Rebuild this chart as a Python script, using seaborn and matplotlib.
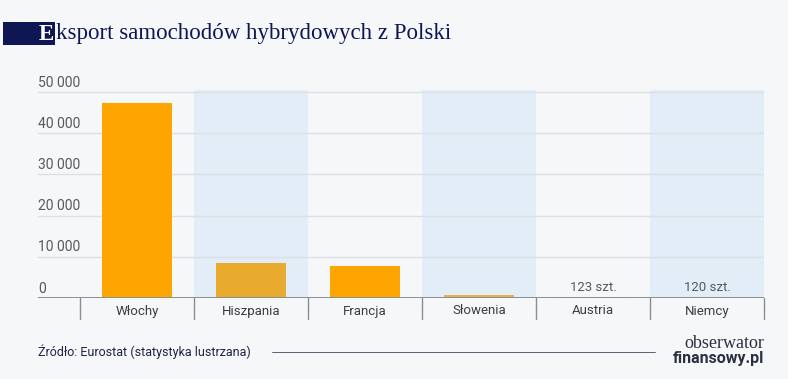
import numpy as np
import pandas as pd
import seaborn as sns
import matplotlib.pyplot as plt
from matplotlib.patches import Rectangle
from matplotlib.lines import Line2D

# data
countries = ['Włochy', 'Hiszpania', 'Francja', 'Słowenia', 'Austria', 'Niemcy']
exports = [47300, 8600, 7700, 700, 123, 120]
bar_colors = ['#ffa500', '#e8ab2e', '#ffa500', '#e8b040', '#e6b652', '#e6b652']
shaded = [1, 3, 5]
yticks = [0, 10000, 20000, 30000, 40000, 50000]
notes = {4: '123 szt.', 5: '120 szt.'}

bg = '#f5f7f9'
navy = '#0f1654'
W, H = 788, 379

sns.set_theme(style='white')
plt.rcParams['font.family'] = ['Roboto', 'DejaVu Sans']

fig = plt.figure(figsize=(W / 100, H / 100), dpi=100, facecolor=bg)

# axes: left edge at 38px (gridlines start), categories from 80px to 764px
left, right, top, bottom = 38, 764, 90, 298
ax = fig.add_axes([left / W, 1 - bottom / H, (right - left) / W, (bottom - top) / H])
ax.set_facecolor(bg)
cat_w = (764 - 80) / 6
x0 = -0.5 - (80 - left) / cat_w

df = pd.DataFrame({'kraj': countries, 'eksport': exports})
for i in shaded:
    ax.axvspan(i - 0.5, i + 0.5, color='#e3edf7', zorder=0, lw=0)
for t in yticks[1:]:
    ax.axhline(t, color='#dcdfe3', lw=1, zorder=1)

sns.barplot(data=df, x='kraj', y='eksport', hue='kraj', palette=bar_colors,
            legend=False, width=0.62, ax=ax, zorder=3, saturation=1,
            edgecolor='none', linewidth=0)

ax.set_xlim(x0, 5.5)
ax.set_ylim(0, 50500)
for s in ax.spines.values():
    s.set_visible(False)
ax.set_xticks([])
ax.set_yticks([])
ax.set_xlabel('')
ax.set_ylabel('')

ax.axhline(0, color='#8a8d92', lw=1.4, zorder=4)

# y labels sit just above their gridlines
for t in yticks:
    lab = f'{t:,}'.replace(',', ' ') if t else '0'
    ax.text(x0, t + 600, lab, ha='left', va='bottom', fontsize=10,
            color='#555a60', zorder=5)

for i, txt in notes.items():
    ax.text(i, exports[i] + 900, txt, ha='center', va='bottom', fontsize=9.5,
            color='#555a60', zorder=5)

# category labels and separators below the baseline
for i, c in enumerate(countries):
    fig.text((80 + cat_w * (i + 0.5)) / W, 1 - 311 / H, c, ha='center', va='center',
             fontsize=9.5, color='#3a3f45')
for i in range(7):
    xp = (80 + cat_w * i) / W
    fig.add_artist(Line2D([xp, xp], [1 - 298 / H, 1 - 319 / H], color='#8a8d92', lw=1))

# title
fig.add_artist(Rectangle((3 / W, 1 - 45 / H), 52 / W, 23 / H, color=navy, lw=0))
fig.text(39 / W, 1 - 34 / H, 'E', ha='left', va='center', fontsize=16.5,
         family='Liberation Serif', color='white', weight='bold')
fig.text(56 / W, 1 - 34 / H, 'ksport samochodów hybrydowych z Polski', ha='left',
         va='center', fontsize=16.5, family='Liberation Serif', color=navy)

# footer
fig.text(38 / W, 1 - 352 / H, 'Źródło: Eurostat (statystyka lustrzana)', ha='left',
         va='center', fontsize=9, color='#1c2440')
fig.add_artist(Line2D([272 / W, 655 / W], [1 - 352 / H, 1 - 352 / H], color='#5a6070', lw=0.7))
fig.text(764 / W, 1 - 344 / H, 'obserwator', ha='right', va='center', fontsize=13,
         family='Liberation Serif', color='#2a3040')
fig.text(764 / W, 1 - 359 / H, 'finansowy.pl', ha='right', va='center', fontsize=11.5,
         weight='bold', color='#2a3040')

fig.savefig('out.png', dpi=100, facecolor=bg)
